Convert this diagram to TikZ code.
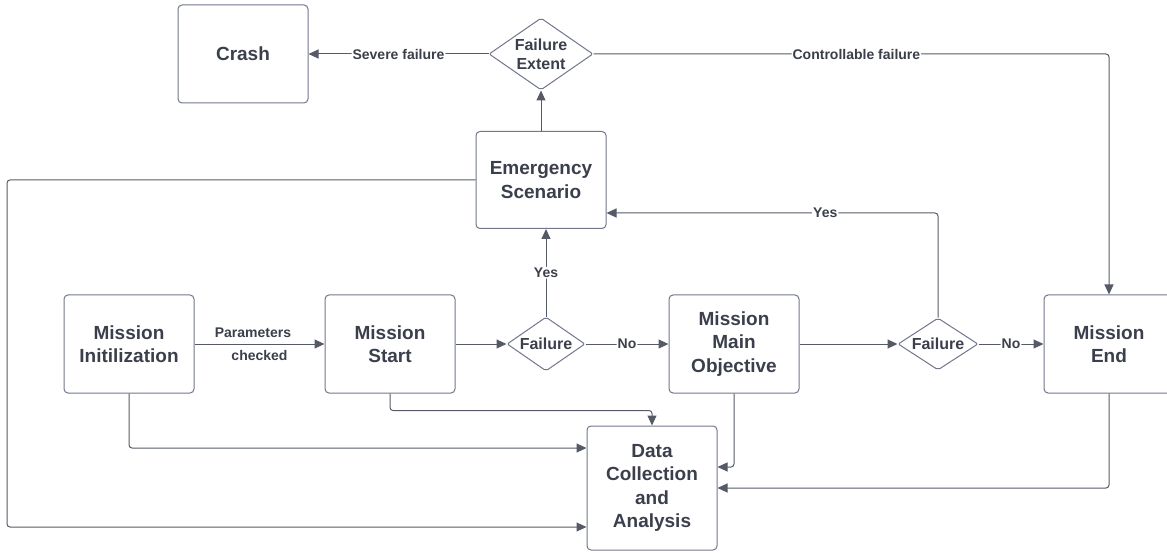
\documentclass[tikz,border=0pt]{standalone}
\usepackage{fontspec}
\setmainfont{Liberation Sans}
\usetikzlibrary{shapes.geometric, arrows.meta, calc}
\definecolor{ink}{HTML}{3A3F4B}
\definecolor{boxline}{HTML}{72768A}
\definecolor{wire}{HTML}{555A66}

\begin{document}
\begin{tikzpicture}[x=1pt, y=-1pt]
	\tikzstyle{box} = [rectangle, rounded corners=4pt, minimum width=130pt, minimum height=98pt, draw=boxline, line width=1pt, text=ink, font=\bfseries\fontsize{19}{23.5}\selectfont, align=center, inner sep=0pt]
	\tikzstyle{dec} = [diamond, rounded corners=2pt, shape aspect=1.43, minimum width=80pt, minimum height=52pt, draw=boxline, line width=1pt, text=ink, font=\bfseries\fontsize{16}{19}\selectfont, align=center, inner sep=0pt]
	\tikzstyle{arrow} = [draw=wire, line width=1pt, rounded corners=3pt, -{Triangle[length=10pt,width=9pt]}]
	\tikzstyle{lbl} = [fill=white, text=ink, font=\bfseries\fontsize{14}{16}\selectfont, inner sep=1pt]
  \useasboundingbox (0,0) rectangle (1167,553);

  \node(crash)[box] at (243,54) {Crash};
  \node(extent)[dec, shape aspect=1.42, minimum width=104pt, minimum height=72pt] at (541,54) {Failure\\Extent};
  \node(emerg)[box, minimum height=97pt] at (541,180) {Emergency\\Scenario};
  \node(init)[box] at (129,344) {Mission\\Initilization};
  \node(start)[box] at (390,344) {Mission\\Start};
  \node(fail1)[dec, minimum width=78pt, minimum height=54pt] at (546,344) {Failure};
  \node(main)[box] at (734,344) {Mission\\Main\\Objective};
  \node(fail2)[dec] at (938,344) {Failure};
  \node(mend)[box] at (1109,344) {Mission\\End};
  \node(data)[box, minimum height=124pt] at (652,488) {Data\\Collection\\and\\Analysis};
  \coordinate (lft) at (7,527);

  \draw [arrow] (init) -- node[lbl, above=5pt, pos=0.45, fill=none]{Parameters} node[lbl, below=5pt, fill=none]{checked} (start);
  \draw [arrow] (start) -- (fail1);
  \draw [arrow] (fail1) -- node[lbl]{No} (main);
  \draw [arrow] (main) -- (fail2);
  \draw [arrow] (fail2) -- node[lbl]{No} (mend);
  \draw [arrow] (fail1.north) -- node[lbl]{Yes} (fail1.north |- emerg.south);
  \draw [arrow] (fail2.north) |- node[lbl, pos=0.67]{Yes} ($(emerg.south east)+(0,-16)$);
  \draw [arrow] (emerg) -- (extent);
  \draw [arrow] (extent) -- node[lbl]{Severe failure} (crash);
  \draw [arrow] (extent) -| node[lbl, pos=0.255]{Controllable failure} (mend);
  \draw [arrow] (emerg.west) -| (lft) -- (lft -| data.west);
  \draw [arrow] (init) |- ($(data.west)+(0,-40)$);
  \draw [arrow] (start.south) -- ++(0,17) -| (data.north);
  \draw [arrow] (main) |- ($(data.east)+(0,-21)$);
  \draw [arrow] (mend) |- (data.east);
\end{tikzpicture}
\end{document}
